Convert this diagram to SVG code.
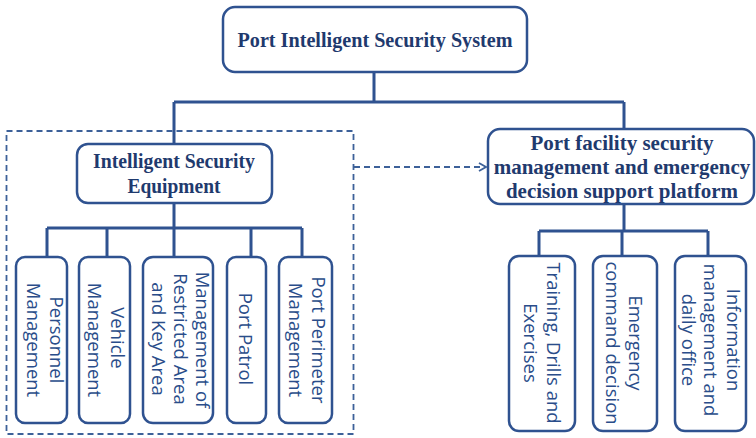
<svg xmlns="http://www.w3.org/2000/svg" width="756" height="438" viewBox="0 0 756 438">
<defs>
<style>
.box{fill:#fff;stroke:#2f5290;stroke-width:2.5}
.ln{fill:none;stroke:#2f5290;stroke-width:3}
.dash{fill:none;stroke:#3d6199;stroke-width:1.8;stroke-dasharray:6 4}
.ser{font-family:"Liberation Serif","Times New Roman",serif;font-weight:bold;font-size:21px;fill:#1f3a6e;text-anchor:middle}
.san{font-family:"Open Sans","Noto Sans",sans-serif;font-size:18.5px;fill:#2a4d8a;text-anchor:middle}
</style>
<marker id="arr" viewBox="0 0 10 10" refX="9" refY="5" markerWidth="10" markerHeight="10" markerUnits="userSpaceOnUse" orient="auto">
<path d="M2,1 L9,5 L2,9" fill="none" stroke="#3d6199" stroke-width="1.8"/>
</marker>
</defs>
<rect width="756" height="438" fill="#fff"/>
<g id="connectors">
<path class="ln" d="M374,72V102M174,102H624M174,102V144M624,102V129"/>
<path class="ln" d="M174,203V228M47,228H302M47,228V257M107,228V257M174,228V257M251,228V257M302,228V257"/>
<path class="ln" d="M624,204V231M539,231H708M539,231V256M622,231V256M708,231V256"/>
<rect class="dash" x="6.5" y="131" width="347" height="303"/>
<path class="dash" d="M354,167H486" marker-end="url(#arr)"/>
</g>
<g id="root">
<rect class="box" x="223" y="7" width="304" height="65" rx="12"/>
<text class="ser" x="375" y="47" font-size="22" textLength="275" lengthAdjust="spacingAndGlyphs">Port Intelligent Security System</text>
</g>
<g id="equipment">
<rect class="box" x="77" y="144" width="195" height="59" rx="11"/>
<text class="ser" x="174" y="168" textLength="162" lengthAdjust="spacingAndGlyphs">Intelligent Security</text>
<text class="ser" x="174" y="193" textLength="93" lengthAdjust="spacingAndGlyphs">Equipment</text>
</g>
<g id="platform">
<rect class="box" x="488" y="129" width="266" height="75" rx="12"/>
<text class="ser" x="622" y="150" font-size="19.5">Port facility security</text>
<text class="ser" x="622" y="174" font-size="19.5">management and emergency</text>
<text class="ser" x="622" y="198" font-size="19.5">decision support platform</text>
</g>
<g id="personnel">
<rect class="box" x="16" y="257" width="51" height="166" rx="9"/>
<text class="san" transform="translate(50,340) rotate(90)">Personnel</text>
<text class="san" transform="translate(27,340) rotate(90)">Management</text>
</g>
<g id="vehicle">
<rect class="box" x="79" y="257" width="51" height="166" rx="9"/>
<text class="san" transform="translate(111,338) rotate(90)">Vehicle</text>
<text class="san" transform="translate(88,340) rotate(90)">Management</text>
</g>
<g id="restricted">
<rect class="box" x="143" y="257" width="70" height="166" rx="10"/>
<text class="san" transform="translate(196,340) rotate(90)">Management of</text>
<text class="san" transform="translate(174,339) rotate(90)">Restricted Area</text>
<text class="san" transform="translate(152,339) rotate(90)">and Key Area</text>
</g>
<g id="patrol">
<rect class="box" x="227" y="257" width="39" height="166" rx="9"/>
<text class="san" transform="translate(239,339) rotate(90)">Port Patrol</text>
</g>
<g id="perimeter">
<rect class="box" x="279" y="257" width="53" height="166" rx="9"/>
<text class="san" transform="translate(312,340) rotate(90)">Port Perimeter</text>
<text class="san" transform="translate(289,340) rotate(90)">Management</text>
</g>
<g id="training">
<rect class="box" x="509" y="256" width="66" height="175" rx="10"/>
<text class="san" transform="translate(547,343) rotate(90)">Training, Drills and</text>
<text class="san" transform="translate(524,343) rotate(90)">Exercises</text>
</g>
<g id="emergency">
<rect class="box" x="593" y="256" width="64" height="175" rx="10"/>
<text class="san" transform="translate(629,343) rotate(90)">Emergency</text>
<text class="san" transform="translate(606,343) rotate(90)">command decision</text>
</g>
<g id="information">
<rect class="box" x="675" y="256" width="71" height="175" rx="10"/>
<text class="san" transform="translate(727,340) rotate(90)">Information</text>
<text class="san" transform="translate(704,340) rotate(90)">management and</text>
<text class="san" transform="translate(682,340) rotate(90)">daily office</text>
</g>
</svg>
